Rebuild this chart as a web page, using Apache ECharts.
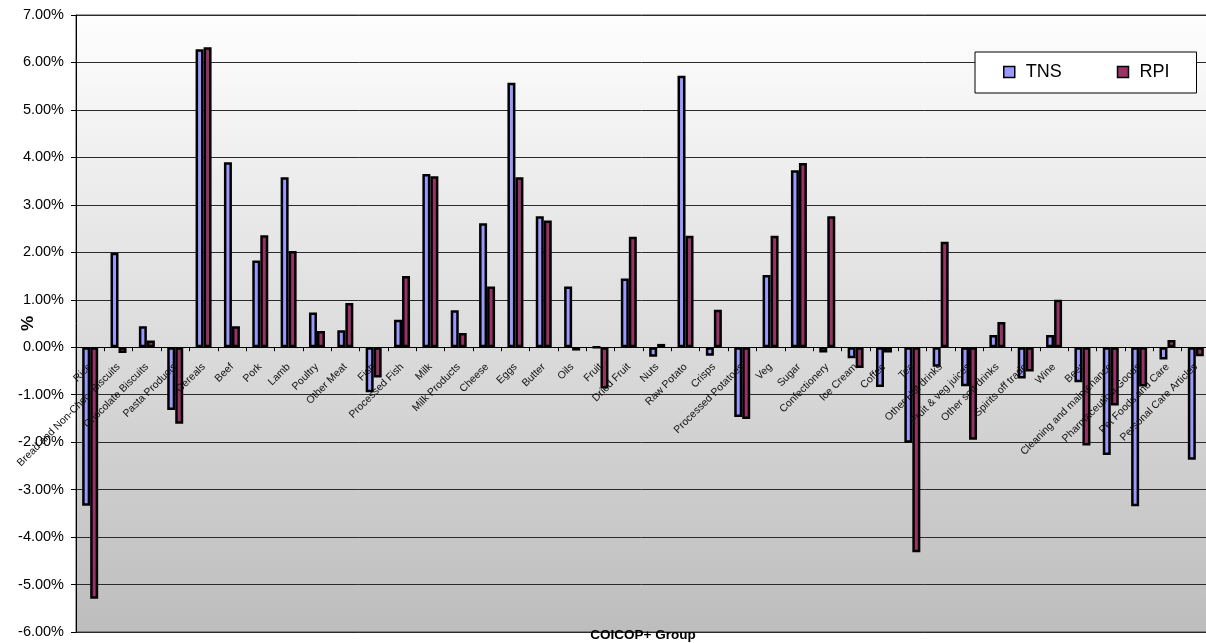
<!DOCTYPE html>
<html>
<head>
<meta charset="utf-8">
<title>TNS vs RPI by COICOP+ Group</title>
<script src="https://cdn.jsdelivr.net/npm/echarts@6/dist/echarts.min.js"></script>
<style>
  html, body { margin: 0; padding: 0; background: #ffffff; }
  #chart { width: 1206px; height: 643px; }
</style>
</head>
<body>
<div id="chart"></div>
<script>
// COICOP+ groups along the category axis
const categories = [
  "Rice", "Bread and Non-Choc. Biscuits", "Chocolate Biscuits", "Pasta Products", "Cereals",
  "Beef", "Pork", "Lamb", "Poultry", "Other Meat",
  "Fish", "Processed Fish", "Milk", "Milk Products", "Cheese",
  "Eggs", "Butter", "Oils", "Fruit", "Dried Fruit",
  "Nuts", "Raw Potato", "Crisps", "Processed Potatoes", "Veg",
  "Sugar", "Confectionery", "Ice Cream", "Coffee", "Tea",
  "Other Hot drinks", "Fruit & veg juices", "Other soft drinks", "Spirits off trade", "Wine",
  "Beer", "Cleaning and maintenance", "Pharmaceutical Goods", "Pet Foods and Care", "Personal Care Articles"
];

// TNS change, percent
const tnsValues = [
  -3.34, 1.99, 0.44, -1.32, 6.28,
  3.90, 1.83, 3.58, 0.73, 0.36,
  -0.95, 0.58, 3.65, 0.78, 2.61,
  5.57, 2.76, 1.28, 0.00, 1.45,
  -0.20, 5.72, -0.18, -1.47, 1.52,
  3.73, -0.11, -0.23, -0.84, -2.01,
  -0.41, -0.82, 0.26, -0.66, 0.26,
  -0.74, -2.27, -3.35, -0.26, -2.37
];

// RPI change, percent
const rpiValues = [
  -5.30, -0.12, 0.14, -1.61, 6.32,
  0.44, 2.36, 2.03, 0.34, 0.93,
  -0.64, 1.50, 3.60, 0.30, 1.28,
  3.58, 2.67, -0.07, -0.87, 2.33,
  0.07, 2.35, 0.79, -1.51, 2.35,
  3.88, 2.76, -0.44, -0.11, -4.32,
  2.22, -1.95, 0.53, -0.51, 1.00,
  -2.07, -1.23, -0.83, 0.15, -0.19
];

// Value axis range and step (percent)
const yMin = -6;
const yMax = 7;
const yStep = 1;

const seriesNames = ["TNS", "RPI"];
const seriesColors = ["#9999ff", "#993366"];

const FONT = "'Liberation Sans', Arial, Helvetica, sans-serif";

// plot box
const GRID_TOP = 15;
const GRID_HEIGHT = 617;
// the category axis sits on the zero line of the value axis
const zeroOffset = -GRID_HEIGHT * (0 - yMin) / (yMax - yMin);

const chart = echarts.init(document.getElementById('chart'), null, { renderer: 'canvas' });

const option = {
  animation: false,
  backgroundColor: '#ffffff',
  textStyle: { fontFamily: FONT },
  grid: {
    left: 76,
    top: GRID_TOP,
    width: 1134,
    height: GRID_HEIGHT,
    show: true,
    borderColor: '#444444',
    borderWidth: 1,
    backgroundColor: new echarts.graphic.LinearGradient(0, 0, 0, 1, [
      { offset: 0, color: '#fefefe' },
      { offset: 1, color: '#bdbdbd' }
    ]),
    containLabel: false,
    outerBoundsMode: 'none'
  },
  legend: {
    left: 975,
    top: 52,
    orient: 'horizontal',
    itemWidth: 11,
    itemHeight: 11,
    itemGap: 55,
    padding: [10, 27, 11, 28],
    backgroundColor: '#ffffff',
    borderColor: '#000000',
    borderWidth: 1,
    borderRadius: 0,
    itemStyle: { borderColor: '#000000', borderWidth: 1.5 },
    textStyle: { fontSize: 18, color: '#000000', fontFamily: FONT, lineHeight: 20, padding: [0, 0, 0, 6] },
    data: seriesNames.map(n => ({ name: n, icon: 'rect' }))
  },
  xAxis: {
    type: 'category',
    data: categories,
    position: 'bottom',
    offset: zeroOffset,
    z: 10,
    axisLine: { onZero: false, lineStyle: { color: '#000000', width: 1 } },
    axisTick: { show: true, length: 4, alignWithLabel: false, lineStyle: { color: '#000000' } },
    axisLabel: {
      interval: 0,
      rotate: 45,
      fontSize: 10.5,
      color: '#111111',
      margin: 18,
      fontFamily: FONT,
      hideOverlap: false
    },
    splitLine: { show: false }
  },
  yAxis: {
    type: 'value',
    min: yMin,
    max: yMax,
    interval: yStep,
    name: '%',
    nameLocation: 'middle',
    nameGap: 39,
    nameRotate: 90,
    nameMoveOverlap: false,
    nameTextStyle: { fontSize: 17, fontWeight: 'bold', color: '#000000', fontFamily: FONT },
    axisLine: { show: true, lineStyle: { color: '#000000', width: 1 } },
    axisTick: { show: true, length: 5, lineStyle: { color: '#000000' } },
    axisLabel: {
      formatter: v => v.toFixed(2) + '%',
      fontSize: 14.5,
      color: '#000000',
      margin: 12,
      fontFamily: FONT
    },
    splitLine: { show: true, lineStyle: { color: '#2a2a2a', width: 1 } }
  },
  series: [
    {
      name: seriesNames[0],
      type: 'bar',
      data: tnsValues,
      barWidth: 8,
      barGap: '0%',
      itemStyle: { color: seriesColors[0], borderColor: '#000000', borderWidth: 2.5 },
      emphasis: { disabled: true }
    },
    {
      name: seriesNames[1],
      type: 'bar',
      data: rpiValues,
      barWidth: 8,
      barGap: '0%',
      itemStyle: { color: seriesColors[1], borderColor: '#000000', borderWidth: 2.5 },
      emphasis: { disabled: true }
    }
  ],
  graphic: [
    {
      type: 'text',
      x: 643,
      y: 635,
      z: 100,
      style: {
        text: 'COICOP+ Group',
        fill: '#000000',
        font: "bold 13.5px 'Liberation Sans', Arial, sans-serif",
        textAlign: 'center',
        textVerticalAlign: 'middle'
      }
    }
  ]
};

chart.setOption(option);
</script>
</body>
</html>
